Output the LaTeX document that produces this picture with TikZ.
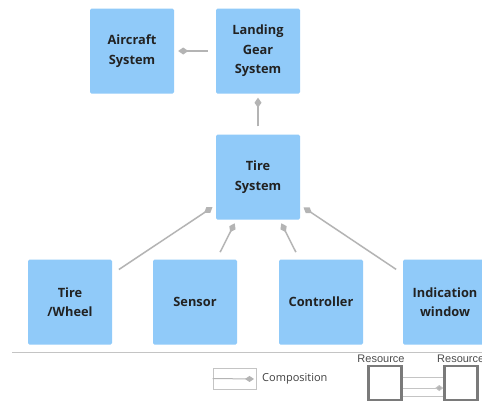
\documentclass[tikz,border=0pt]{standalone}
\usepackage{fontspec}
\setmainfont{Open Sans}
\newfontfamily\legendfont{Liberation Sans}
\usetikzlibrary{arrows.meta}
\definecolor{boxblue}{HTML}{90CAF9}
\definecolor{linkgray}{HTML}{B4B4B4}
\definecolor{labelink}{HTML}{222222}
\definecolor{rulegray}{HTML}{C4C4C4}
\definecolor{resgray}{HTML}{7A7A7A}
\begin{document}
\begin{tikzpicture}[x=1pt,y=-1pt,
  part/.style={fill=boxblue, draw=none, rounded corners=1.5pt,
    minimum width=84pt, minimum height=85pt, inner sep=0pt,
    align=center, text=labelink,
    font=\bfseries\fontsize{12.8}{19.5}\selectfont},
  comp/.style={draw=linkgray, line width=1.5pt,
    -{Diamond[length=10pt,width=7pt]},
    shorten <=8pt, shorten >=4pt},
  small/.style={font=\fontsize{11}{13}\selectfont, inner sep=0pt}]
\clip (0,0) rectangle (482,400);
\fill[white] (0,0) rectangle (482,400);

% system hierarchy
\node[part] (air) at (132,51) {Aircraft\\System};
\node[part] (lg)  at (258,51) {Landing\\Gear\\System};
\node[part] (ts)  at (258,177) {Tire\\System};
\node[part] (tw)  at (70,302)  {Tire\\/Wheel};
\node[part] (sen) at (195,302) {Sensor};
\node[part] (ctl) at (321,302) {Controller};
\node[part] (ind) at (445,302) {Indication\\window};

% composition links (diamond at the whole)
\draw[comp] (lg) -- (air);
\draw[comp] (ts) -- (lg);
\draw[comp] (tw) -- (ts);
\draw[comp] (sen) -- (ts);
\draw[comp] (ctl) -- (ts);
\draw[comp] (ind) -- (ts);

% legend separator
\coordinate (sepL) at (12,352);
\coordinate (sepR) at (482,352);
\draw[rulegray, line width=1pt] (sepL) -- (sepR);

% legend entry: composition
\node[draw=rulegray, line width=0.8pt, minimum width=43pt, minimum height=21pt,
  inner sep=0pt] (key) at (234.5,378.5) {};
\coordinate (keyEnd) at (254,379);
\draw[linkgray, line width=1pt, -{Diamond[length=9pt,width=6pt]}]
  (key.west) -- (keyEnd);
\node[small, anchor=west, text=black!75] (keytxt) at (262,379) {Composition};

% legend sample: two resources
\node[draw=resgray, line width=2.5pt, fill=white, minimum width=33pt,
  minimum height=34pt, inner sep=0pt] (resA) at (385,383) {};
\node[draw=resgray, line width=2.5pt, fill=white, minimum width=33pt,
  minimum height=34pt, inner sep=0pt] (resB) at (461,383) {};
\node[small, font=\legendfont\fontsize{11}{13}\selectfont, text=black!70]
  (resAt) at (381,359) {Resource};
\node[small, font=\legendfont\fontsize{11}{13}\selectfont, text=black!70,
  anchor=west] (resBt) at (437,359) {Resource};
\draw[rulegray, line width=0.8pt] (resA.east |- 0,377) -- (resB.west |- 0,377);
\draw[rulegray, line width=0.8pt] (resA.east |- 0,396) -- (resB.west |- 0,396);
\draw[rulegray, line width=0.8pt, -{Diamond[length=8pt,width=6pt,fill=linkgray]}]
  (resA.east |- 0,388) -- (resB.west |- 0,388);
\end{tikzpicture}
\end{document}
